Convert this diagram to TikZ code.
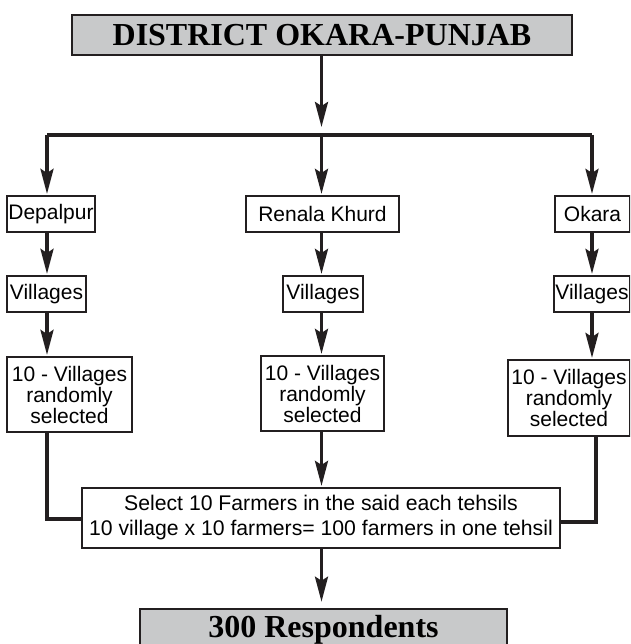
\documentclass[tikz,border=0pt]{standalone}
\usepackage{fontspec}
\setmainfont{Liberation Sans}
\newfontfamily\titlefont{Liberation Serif}
\usetikzlibrary{arrows.meta}
\definecolor{ink}{HTML}{231F20}
\definecolor{boxgray}{HTML}{C8C9CA}
\begin{document}
\begin{tikzpicture}[x=1pt,y=-1pt,
  box/.style={draw=ink, line width=1.2pt, fill=white, inner sep=0pt, align=center,
    font=\fontsize{21}{21}\selectfont},
  titlebox/.style={draw=ink, line width=2.6pt, fill=boxgray, inner sep=0pt,
    font=\titlefont\bfseries\fontsize{32}{36}\selectfont},
  conn/.style={draw=ink, line width=3.2pt},
  arr/.style={conn, -{Stealth[length=25pt,width=13pt,inset=4pt]}, shorten >=1.5pt}
]
\useasboundingbox (0,0) rectangle (630,644);
\clip (0,0) rectangle (630,644);

\node[titlebox, minimum width=500pt, minimum height=40pt] (top) at (322,35) {DISTRICT OKARA-PUNJAB};

\node[box, minimum width=88pt, minimum height=36pt] (dep) at (51,214) {Depalpur};
\node[box, minimum width=79pt, minimum height=36pt] (vil1) at (46.5,294) {Villages};
\node[box, minimum width=125pt, minimum height=75pt] (ten1) at (69.5,394.5) {10 - Villages\\randomly\\selected};

\node[box, minimum width=153pt, minimum height=36pt] (ren) at (322.5,214) {Renala Khurd};
\node[box, minimum width=80pt, minimum height=36pt] (vil2) at (323,294) {Villages};
\node[box, minimum width=123pt, minimum height=75pt] (ten2) at (322.5,393.5) {10 - Villages\\randomly\\selected};

\node[box, minimum width=75pt, minimum height=36pt] (oka) at (592.5,214) {Okara};
\node[box, minimum width=76pt, minimum height=36pt] (vil3) at (592,294) {Villages};
\node[box, minimum width=122pt, minimum height=76pt] (ten3) at (569,398) {10 - Villages\\randomly\\selected};

\node[box, minimum width=478pt, minimum height=60pt, font=\fontsize{21.2}{25}\selectfont] (sel) at (321,518)
  {Select 10 Farmers in the said each tehsils\\10 village x 10 farmers= 100 farmers in one tehsil};

\node[titlebox, minimum width=367pt, minimum height=42pt] (res) at (323.5,630) {300 Respondents};

% branching
\coordinate (hl) at (47,135);
\coordinate (hm) at (321.5,135);
\coordinate (hr) at (592,135);
\draw[arr, shorten >=8pt] (top.south -| hm) -- (hm);
\draw[conn] (hl) -- (hr);
\draw[arr] (hl) -- (hl |- dep.north);
\draw[arr] (hm) -- (hm |- ren.north);
\draw[arr] (hr) -- (hr |- oka.north);

% left column
\draw[arr] (dep.south -| hl) -- (vil1.north -| hl);
\draw[arr] (vil1.south -| hl) -- (ten1.north -| hl);
% middle column
\draw[arr] (ren.south -| hm) -- (vil2.north -| hm);
\draw[arr] (vil2.south -| hm) -- (ten2.north -| hm);
% right column
\draw[arr] (oka.south -| hr) -- (vil3.north -| hr);
\draw[arr] (vil3.south -| hr) -- (ten3.north -| hr);

% to select box
\coordinate (bl) at (47,519);
\coordinate (br) at (596,522);
\draw[conn] (ten1.south -| bl) -- (bl) -- (bl -| sel.west);
\draw[conn] (ten3.south -| br) -- (br) -- (br -| sel.east);
\draw[arr] (ten2.south -| hm) -- (sel.north -| hm);

\draw[arr, shorten >=6pt] (sel.south -| hm) -- (res.north -| hm);
\end{tikzpicture}
\end{document}
